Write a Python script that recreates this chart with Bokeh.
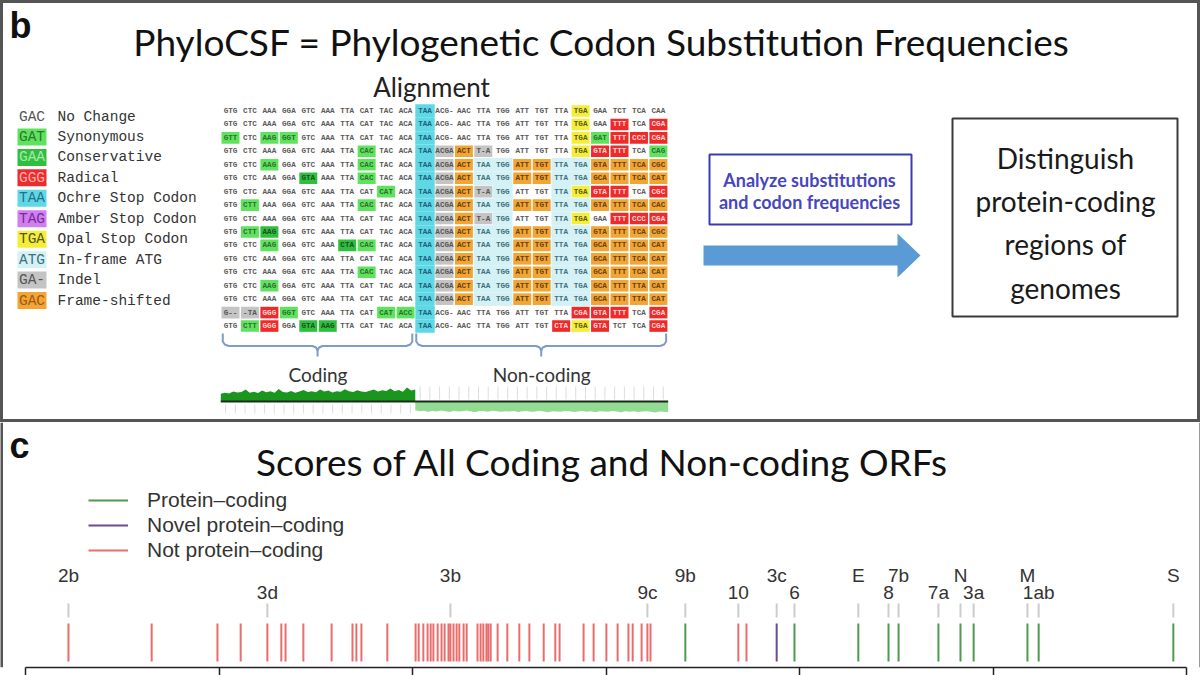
import numpy as np
from bokeh.plotting import figure
from bokeh.layouts import column
from bokeh.models import Range1d, Label, Legend, LegendItem, FixedTicker, Span, ColumnDataSource
from bokeh.core.properties import value
from bokeh.embed import file_html
from bokeh.resources import INLINE

# ------------------------------------------------------------------ data (panel b)
legend_codons = ["GAC", "GAT", "GAA", "GGG", "TAA", "TAG", "TGA", "ATG", "GA-", "GAC"]
legend_names = ["No Change", "Synonymous", "Conservative", "Radical", "Ochre Stop Codon",
                "Amber Stop Codon", "Opal Stop Codon", "In-frame ATG", "Indel", "Frame-shifted"]
legend_keys = ["N", "S", "C", "R", "O", "M", "P", "A", "I", "F"]

alignment_coding = [
    "GTG CTC AAA GGA GTC AAA TTA CAT TAC ACA TAA",
    "GTG CTC AAA GGA GTC AAA TTA CAT TAC ACA TAA",
    "GTT CTC AAG GGT GTC AAA TTA CAT TAC ACA TAA",
    "GTG CTC AAA GGA GTC AAA TTA CAC TAC ACA TAA",
    "GTG CTC AAG GGA GTC AAA TTA CAC TAC ACA TAA",
    "GTG CTC AAA GGA GTA AAA TTA CAC TAC ACA TAA",
    "GTG CTC AAA GGA GTC AAA TTA CAT CAT ACA TAA",
    "GTG CTT AAA GGA GTC AAA TTA CAC TAC ACA TAA",
    "GTG CTC AAA GGA GTC AAA TTA CAT TAC ACA TAA",
    "GTG CTT AAG GGA GTC AAA TTA CAT TAC ACA TAA",
    "GTG CTC AAG GGA GTC AAA CTA CAC TAC ACA TAA",
    "GTG CTC AAA GGA GTC AAA TTA CAT TAC ACA TAA",
    "GTG CTC AAA GGA GTC AAA TTA CAC TAC ACA TAA",
    "GTG CTC AAG GGA GTC AAA TTA CAT TAC ACA TAA",
    "GTG CTC AAA GGA GTC AAA TTA CAT TAC ACA TAA",
    "G-- -TA GGG GGT GTC AAA TTA CAT CAT ACC TAA",
    "GTG CTT GGG GGA GTA AAG TTA CAT TAC ACA TAA",
]
alignment_noncoding = [
    "ACG- AAC TTA TGG ATT TGT TTA TGA GAA TCT TCA CAA",
    "ACG- AAC TTA TGG ATT TGT TTA TGA GAA TTT TCA CGA",
    "ACG- AAC TTA TGG ATT TGT TTA TGA GAT TTT CCC CGA",
    "ACGA ACT T-A TGG ATT TGT TTA TGA GTA TTT TCA CAG",
    "ACGA ACT TAA TGG ATT TGT TTA TGA GTA TTT TCA CGC",
    "ACGA ACT TAA TGG ATT TGT TTA TGA GCA TTT TCA CAT",
    "ACGA ACT T-A TGG ATT TGT TTA TGA GTA TTT TCA CGC",
    "ACGA ACT TAA TGG ATT TGT TTA TGA GTA TTT TCA CAC",
    "ACGA ACT T-A TGG ATT TGT TTA TGA GAA TTT CCC CGA",
    "ACGA ACT TAA TGG ATT TGT TTA TGA GTA TTT TCA CGC",
    "ACGA ACT TAA TGG ATT TGT TTA TGA GCA TTT TCA CAT",
    "ACGA ACT TAA TGG ATT TGT TTA TGA GCA TTT TCA CAT",
    "ACGA ACT TAA TGG ATT TGT TTA TGA GCA TTT TCA CAT",
    "ACGA ACT TAA TGG ATT TGT TTA TGA GCA TTT TTA CAT",
    "ACGA ACT TAA TGG ATT TGT TTA TGA GCA TTT TTA CAT",
    "ACG- AAC TTA TGG ATT TGT TTA CGA GTA TTT TCA CGA",
    "ACG- AAC TTA TGG ATT TGT CTA TGA GTA TCT TCA CGA",
]
alignment_marks = [
    "..........O.......P....",
    "..........O.......P.R.R",
    "S.SS......O.......PSRRR",
    ".......S..OIFI....PRR.S",
    "..S....S..OIFAAFFAAFFFF",
    "....C..S..OIFAAFFAAFFFF",
    "........S.OIFIA..APRR.R",
    ".S.....S..OIFAAFFAAFFFF",
    "..........OIFIA..AP.RRR",
    ".SC.......OIFAAFFAAFFFF",
    "..S...CS..OIFAAFFAAFFFF",
    "..........OIFAAFFAAFFFF",
    ".......S..OIFAAFFAAFFFF",
    "..S.......OIFAAFFAAFFFF",
    "..........OIFAAFFAAFFFF",
    "IIRS....SSO.......RRR.R",
    ".SR.CC....O......RPR..R",
]
n_coding_cols = 10

coding_conservation = [0.55, 0.62, 0.58, 0.72, 0.64, 0.68, 0.85, 0.63, 0.7, 0.6, 0.78, 0.66,
                       0.73, 0.62, 0.9, 0.68, 0.65, 0.75, 0.63, 0.71, 0.82, 0.67, 0.74, 0.66,
                       0.86, 0.72, 0.78, 0.65, 0.74, 0.7, 0.88, 0.74, 0.68, 0.8, 0.72, 0.67,
                       0.77, 0.86, 0.71, 0.8, 0.75, 0.93, 0.74, 0.82, 0.7, 1.0, 0.78, 0.85]
noncoding_conservation = [-0.62, -0.7, -0.66, -0.74, -0.68, -0.72, -0.65, -0.7, -0.75, -0.66,
                          -0.72, -0.69, -0.64, -0.71, -0.76, -0.68, -0.7, -0.73, -0.66, -0.7,
                          -0.74, -0.69, -0.72, -0.67, -0.75, -0.7, -0.68, -0.73, -0.71, -0.66,
                          -0.72, -0.76, -0.69, -0.71, -0.74, -0.68, -0.7, -0.75, -0.72, -0.67,
                          -0.73, -0.7, -0.76, -0.69, -0.72, -0.74, -0.68, -0.71, -0.77, -0.7,
                          -0.73, -0.69, -0.75, -0.72, -0.7, -0.74, -0.78, -0.71, -0.73, -0.76]

# ------------------------------------------------------------------ data (panel c)
axis_ticks = [-15, -10, -5, 0, 5, 10, 15]
noncoding_scores = [-13.89, -11.74, -10.04, -9.44, -8.75, -8.39, -8.28, -7.82, -7.09, -6.55,
                    -6.45, -6.32, -5.65,
                    -4.92, -4.84, -4.72, -4.61, -4.53, -4.46, -4.35, -4.25, -4.17, -4.07,
                    -4.02, -3.94, -3.86, -3.79, -3.68, -3.60,
                    -3.32, -3.24, -3.17, -3.09, -3.04, -2.98, -2.80, -2.55, -2.24, -1.98,
                    -1.61, -1.31, -1.20, -0.58, -0.32, 0.01, 0.30, 0.58, 0.69, 0.92, 1.07,
                    1.15, 3.42, 3.63]
coding_scores = [2.05, 4.87, 6.52, 7.30, 7.56, 8.59, 9.16, 9.50, 10.89, 11.18, 14.66]
novel_scores = [4.41]
gene_names = ["2b", "3d", "3b", "9c", "9b", "10", "3c", "6", "E", "8", "7b", "7a", "N", "3a",
              "M", "1ab", "S"]
gene_scores = [-13.89, -8.75, -4.02, 1.07, 2.05, 3.42, 4.41, 4.87, 6.52, 7.30, 7.56, 8.59,
               9.16, 9.50, 10.89, 11.18, 14.66]
gene_level = [1, 0, 1, 0, 1, 0, 1, 0, 1, 0, 1, 0, 1, 0, 1, 0, 1]

# ------------------------------------------------------------------ styles
fill_of = {"S": "#5fe35f", "C": "#2fbf3f", "R": "#ee2b2b", "O": "#5fd8e6", "M": "#d07ef0",
           "P": "#f4ee3a", "A": "#d4f1f6", "I": "#c4c4c4", "F": "#f1a534", "N": None}
text_of = {"S": "#2f6f2f", "C": "#1f4f1f", "R": "#ffd6d6", "O": "#22607a", "M": "#6a2a8a",
           "P": "#5a5a10", "A": "#40707a", "I": "#555555", "F": "#6a4010", "N": "#555555"}
legend_text_of = {"N": "#555555", "S": "#2a7a2a", "C": "#a8e8a8", "R": "#ffb0b0", "O": "#2a6f8a",
                  "M": "#7a2a9a", "P": "#555522", "A": "#3a7080", "I": "#555555", "F": "#a05a10"}
CAL = "Lato"
ARIAL = "Liberation Sans"
MONO = "Liberation Mono"
W, HB, HC = 1200, 422, 253

# ------------------------------------------------------------------ panel b
pb = figure(width=W, height=HB, x_range=Range1d(0, W), y_range=Range1d(HB, 0),
            output_backend="svg", toolbar_location=None, min_border=0)
pb.axis.visible = False
pb.grid.visible = False
pb.outline_line_color = "#555555"
pb.outline_line_width = 5

pb.add_layout(Label(x=9, y=25, text="b", text_font=ARIAL, text_font_style="bold",
                    text_font_size="36px", text_baseline="middle", text_color="#111111"))
pb.add_layout(Label(x=601, y=41, text="PhyloCSF = Phylogenetic Codon Substitution Frequencies",
                    text_font=CAL, text_font_size="37px", text_align="center",
                    text_baseline="middle", text_color="#111111"))
pb.add_layout(Label(x=431, y=86, text="Alignment", text_font=CAL, text_font_size="26px",
                    text_align="center", text_baseline="middle", text_color="#222222"))

# codon legend
ly = [116 + i * 20.45 for i in range(len(legend_codons))]
lsrc = ColumnDataSource(dict(
    y=ly, top=[v - 8.5 for v in ly], bottom=[v + 8.5 for v in ly],
    codon=legend_codons, name=legend_names,
    fill=[fill_of[k] if fill_of[k] else "white" for k in legend_keys],
    alpha=[0.0 if fill_of[k] is None else 1.0 for k in legend_keys],
    tcol=[legend_text_of[k] for k in legend_keys]))
pb.quad(left=17, right=46, top="top", bottom="bottom", fill_color="fill", fill_alpha="alpha",
        line_color=None, source=lsrc)
pb.text(x=31.5, y="y", text="codon", text_color="tcol", text_font=value(MONO),
        text_font_size=value("14.5px"), text_align="center", text_baseline="middle", source=lsrc)
pb.text(x=57, y="y", text="name", text_color="#333333", text_font=value(MONO),
        text_font_size=value("14.5px"), text_align="left", text_baseline="middle", source=lsrc)

# alignment grid
col_x0, col_dx = 230.0, 19.45
row_y0, row_dy = 110.5, 13.44
cx, cy, ctext, ctcol = [], [], [], []
qx0, qx1, qy0, qy1, qfill = [], [], [], [], []
for i, (cod, nc, marks) in enumerate(zip(alignment_coding, alignment_noncoding, alignment_marks)):
    codons = cod.split() + nc.split()
    y = row_y0 + i * row_dy
    for j, (c, m) in enumerate(zip(codons, marks)):
        x = col_x0 + j * col_dx
        cx.append(x); cy.append(y); ctext.append(c)
        ctcol.append(text_of[m] if m != "." else "#5a5a5a")
        if m != ".":
            full = m in ("O", "A")
            hh = row_dy / 2 if full else 5.8
            hw = col_dx / 2 if full else 9.0
            qx0.append(x - hw); qx1.append(x + hw)
            qy0.append(y - hh); qy1.append(y + hh)
            qfill.append(fill_of[m])
pb.quad(left=qx0, right=qx1, top=qy0, bottom=qy1, fill_color=qfill, line_color=None)
pb.text(x=cx, y=cy, text=ctext, text_color=ctcol, text_font=value(MONO),
        text_font_size=value("7.6px"), text_font_style="bold", text_align="center",
        text_baseline="middle")

# braces under coding / non-coding
left_edge = col_x0 - col_dx / 2
split_edge = col_x0 + (n_coding_cols - 0.5) * col_dx
right_edge = col_x0 + (len(alignment_marks[0]) - 0.5) * col_dx
brace_xs, brace_ys = [], []
for a, b in [(left_edge + 2, split_edge - 3), (split_edge + 1, right_edge - 2)]:
    m = (a + b) / 2
    brace_xs += [[a, a, a + 2, a + 6, m - 5, m - 1.5, m],
                 [b, b, b - 2, b - 6, m + 5, m + 1.5, m],
                 [m, m]]
    brace_ys += [[333, 341, 344, 345.5, 345.5, 347, 350],
                 [333, 341, 344, 345.5, 345.5, 347, 350],
                 [348, 356]]
pb.multi_line(xs=brace_xs, ys=brace_ys, line_color="#7d9cc8", line_width=2)
pb.add_layout(Label(x=(left_edge + split_edge) / 2, y=374, text="Coding", text_font=CAL,
                    text_font_size="19px", text_align="center", text_baseline="middle",
                    text_color="#333333"))
pb.add_layout(Label(x=(split_edge + right_edge) / 2, y=374, text="Non-coding", text_font=CAL,
                    text_font_size="19px", text_align="center", text_baseline="middle",
                    text_color="#333333"))

# conservation track
base_y, scale_px = 401.0, 14.0
tick_x = np.arange(left_edge + col_dx / 4, right_edge, col_dx / 2)
tx_nc = [t for t in tick_x if t > split_edge]
tx_c = [t for t in tick_x if t < split_edge]
pb.segment(x0=tx_nc, y0=386, x1=tx_nc, y1=399, line_color="#dddddd", line_width=1)
pb.segment(x0=tx_c, y0=404, x1=tx_c, y1=413, line_color="#dddddd", line_width=1)
xc = np.linspace(left_edge, split_edge, len(coding_conservation))
pb.varea(x=xc, y1=base_y, y2=base_y - np.array(coding_conservation) * scale_px,
         fill_color="#1a961e")
xn = np.linspace(split_edge, right_edge, len(noncoding_conservation))
pb.varea(x=xn, y1=base_y, y2=base_y - np.array(noncoding_conservation) * scale_px,
         fill_color="#93da93")
pb.line(x=[left_edge, right_edge], y=[base_y, base_y], line_color="#1a2a1a", line_width=2)

# analyze box + arrow
pb.quad(left=709, right=911, top=154, bottom=224, fill_color=None, line_color="#3b3bb5",
        line_width=2)
pb.add_layout(Label(x=809, y=179, text="Analyze substitutions", text_font=CAL,
                    text_font_style="bold", text_font_size="18px", text_align="center",
                    text_baseline="middle", text_color="#4646c0"))
pb.add_layout(Label(x=809, y=201, text="and codon frequencies", text_font=CAL,
                    text_font_style="bold", text_font_size="18px", text_align="center",
                    text_baseline="middle", text_color="#4646c0"))
pb.patch(x=[703, 897, 897, 920, 897, 897, 703], y=[245, 245, 233, 255, 277, 265, 265],
         fill_color="#5b9bd5", line_color=None)

# distinguish box
pb.quad(left=952, right=1177, top=118, bottom=316, fill_color=None, line_color="#3a3a3a",
        line_width=2)
for txt, yy in [("Distinguish", 157), ("protein-coding", 200), ("regions of", 243),
                ("genomes", 287)]:
    pb.add_layout(Label(x=1065, y=yy, text=txt, text_font=CAL, text_font_size="28px",
                        text_align="center", text_baseline="middle", text_color="#1a1a1a"))

# ------------------------------------------------------------------ panel c
px_per_unit = 38.7
x_lo = axis_ticks[0] - 25 / px_per_unit
x_hi = axis_ticks[-1] + (W - 1186) / px_per_unit
pc = figure(width=W, height=HC, x_range=Range1d(x_lo, x_hi), y_range=Range1d(667, 422),
            output_backend="svg", toolbar_location=None, min_border_left=0,
            min_border_right=0, min_border_top=0, min_border_bottom=0)
pc.grid.visible = False
pc.yaxis.visible = False
pc.outline_line_color = None
ax = pc.xaxis[0]
ax.ticker = FixedTicker(ticks=axis_ticks)
ax.bounds = (axis_ticks[0], axis_ticks[-1])
ax.axis_line_color = "#222222"
ax.axis_line_width = 1.5
ax.major_tick_line_color = "#222222"
ax.major_tick_line_width = 1.5
ax.major_tick_out = 8
ax.major_tick_in = 0
ax.minor_tick_out = 0
ax.minor_tick_in = 0
ax.major_label_text_font_size = "0px"
ax.major_label_standoff = 0

pc.add_layout(Span(location=x_lo, dimension="height", line_color="#555555", line_width=5))
pc.add_layout(Span(location=x_hi, dimension="height", line_color="#999999", line_width=3))

pc.add_layout(Label(x=9, y=445, x_units="screen", text="c", text_font=ARIAL,
                    text_font_style="bold", text_font_size="36px", text_baseline="middle",
                    text_color="#111111"))
pc.add_layout(Label(x=602, y=461, x_units="screen", text="Scores of All Coding and Non-coding ORFs",
                    text_font=CAL, text_font_size="37px", text_align="center",
                    text_baseline="middle", text_color="#111111"))

rug_top, rug_bot = 623, 661
r_nc = pc.segment(x0=noncoding_scores, y0=rug_top, x1=noncoding_scores, y1=rug_bot,
                  line_color="#e03535", line_alpha=0.72, line_width=2)
r_c = pc.segment(x0=coding_scores, y0=rug_top, x1=coding_scores, y1=rug_bot,
                 line_color="#4f9a4f", line_width=2)
r_nv = pc.segment(x0=novel_scores, y0=rug_top, x1=novel_scores, y1=rug_bot,
                  line_color="#6b4c8c", line_width=2)
pc.segment(x0=gene_scores, y0=603, x1=gene_scores, y1=617, line_color="#cccccc", line_width=2)
gsrc = ColumnDataSource(dict(x=gene_scores, name=gene_names,
                             y=[575 if lv == 1 else 592 for lv in gene_level]))
pc.text(x="x", y="y", text="name", source=gsrc, text_font=value(ARIAL),
        text_font_size=value("19px"), text_align="center", text_baseline="middle",
        text_color="#333333")

legend = Legend(items=[LegendItem(label="Protein\u2013coding", renderers=[r_c]),
                       LegendItem(label="Novel protein\u2013coding", renderers=[r_nv]),
                       LegendItem(label="Not protein\u2013coding", renderers=[r_nc])],
                location=(88, 105), orientation="vertical", glyph_width=40, glyph_height=24,
                label_height=24, spacing=1, padding=0, margin=0, label_standoff=19,
                label_text_font=ARIAL, label_text_font_size="21px", label_text_color="#333333",
                border_line_color=None, background_fill_alpha=0.0)
pc.add_layout(legend)

layout = column(pb, pc, spacing=0)
open("out.html", "w").write(file_html(layout, INLINE))
